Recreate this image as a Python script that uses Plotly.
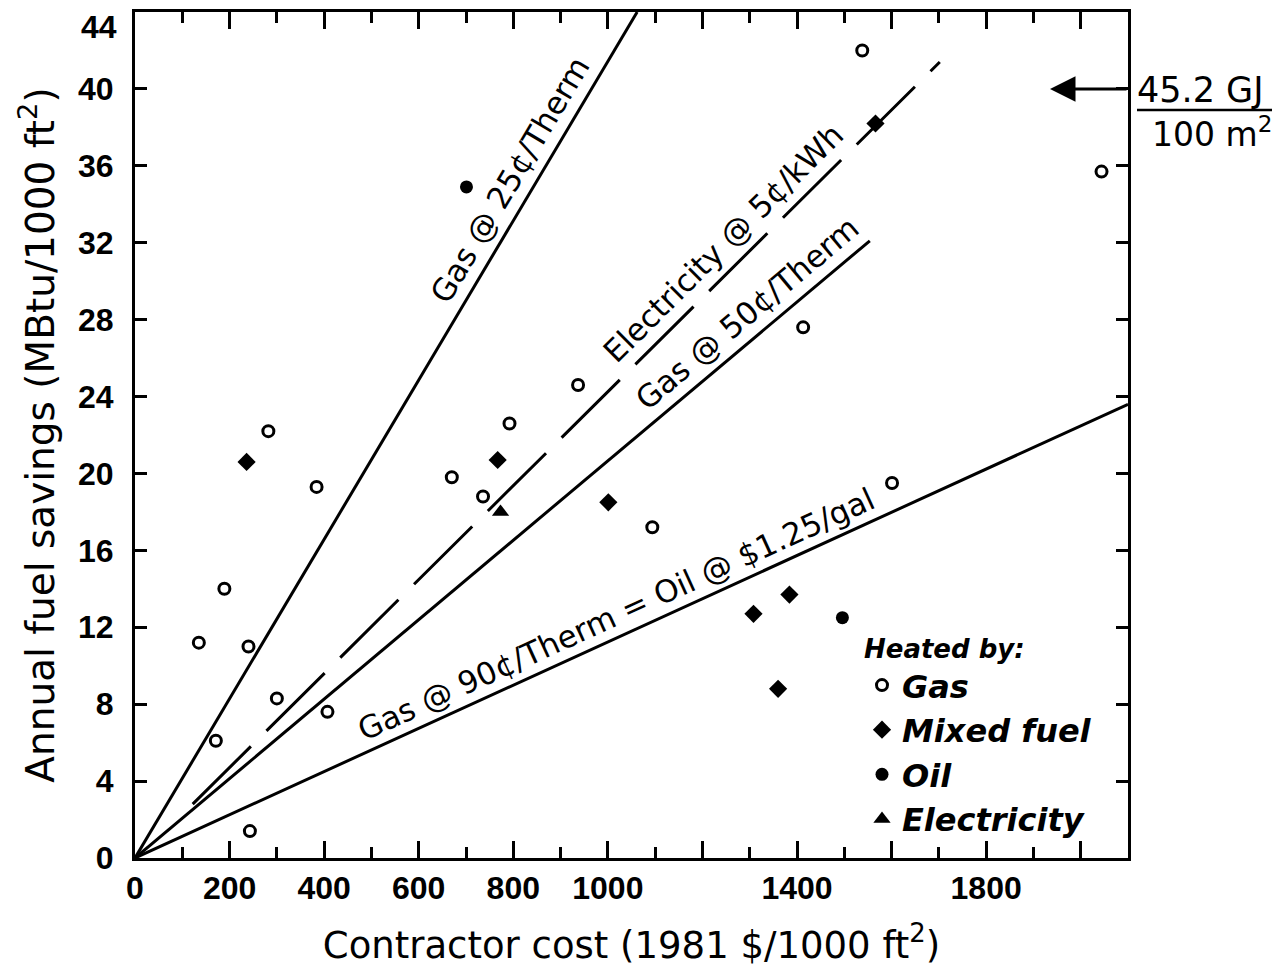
import math
import plotly.graph_objects as go

# ---- data ----
gas_x = [135, 171, 189, 240, 243, 282, 300, 384, 407, 670, 736, 792, 937, 1094, 1413, 1538, 1601, 2044]
gas_y = [11.2, 6.1, 14.0, 11.0, 1.4, 22.2, 8.3, 19.3, 7.6, 19.8, 18.8, 22.6, 24.6, 17.2, 27.6, 42.0, 19.5, 35.7]

mixed_x = [236, 767, 1001, 1308, 1384, 1360, 1566]
mixed_y = [20.6, 20.7, 18.5, 12.7, 13.7, 8.8, 38.2]

oil_x = [701, 1496]
oil_y = [34.9, 12.5]

elec_x = [773]
elec_y = [18.0]

# break-even lines (end points)
gas25_x = [0, 1062]
gas25_y = [0, 44]
elecline_x = [122, 1702]
elecline_y = [2.8, 41.4]
gas50_x = [0, 1554]
gas50_y = [0, 32.1]
gas90_x = [0, 2100]
gas90_y = [0, 23.6]

x_tickvals = [0, 200, 400, 600, 800, 1000, 1200, 1400, 1600, 1800, 2000]
x_ticktext = ["0", "200", "400", "600", "800", "1000", "", "1400", "", "1800", ""]
y_tickvals = [0, 4, 8, 12, 16, 20, 24, 28, 32, 36, 40, 44]
y_ticktext = ["0", "4", "8", "12", "16", "20", "24", "28", "32", "36", "40", ""]

FONT = "DejaVu Sans"
TICKFONT = "Liberation Sans"
L, R, T, B = 135, 149, 12, 110
W, H = 1277, 968
PW, PH = W - L - R, H - T - B
XMAX, YMAX = 2100, 44
SX, SY = PW / XMAX, PH / YMAX   # pixels per data unit

fig = go.Figure()

line_style = dict(color="black", width=3)
fig.add_trace(go.Scatter(x=gas25_x, y=gas25_y, mode="lines", line=line_style, showlegend=False, hoverinfo="skip"))
fig.add_trace(go.Scatter(x=elecline_x, y=elecline_y, mode="lines",
                         line=dict(color="black", width=3, dash="82px,22px"), showlegend=False, hoverinfo="skip"))
fig.add_trace(go.Scatter(x=gas50_x, y=gas50_y, mode="lines", line=line_style, showlegend=False, hoverinfo="skip"))
fig.add_trace(go.Scatter(x=gas90_x, y=gas90_y, mode="lines", line=line_style, showlegend=False, hoverinfo="skip"))

fig.add_trace(go.Scatter(x=gas_x, y=gas_y, mode="markers", name="Gas", legendgroup="a",
                         marker=dict(symbol="circle-open", size=11, color="black", line=dict(width=3, color="black")),
                         cliponaxis=False))
fig.add_trace(go.Scatter(x=mixed_x, y=mixed_y, mode="markers", name="Mixed fuel", legendgroup="b",
                         marker=dict(symbol="diamond", size=14, color="black"), cliponaxis=False))
fig.add_trace(go.Scatter(x=oil_x, y=oil_y, mode="markers", name="Oil", legendgroup="c",
                         marker=dict(symbol="circle", size=13, color="black"), cliponaxis=False))
fig.add_trace(go.Scatter(x=elec_x, y=elec_y, mode="markers", name="Electricity", legendgroup="d",
                         marker=dict(symbol="triangle-up", size=15, color="black"), cliponaxis=False))

# line labels: placed at a point on each line, lifted perpendicular to it
label_font = dict(family=FONT, size=31, color="black")
labels = [
    ("Gas @ 25¢/Therm", gas25_x, gas25_y, 836, 24),
    ("Electricity @ 5¢/kWh", elecline_x, elecline_y, 1280, 24),
    ("Gas @ 50¢/Therm", gas50_x, gas50_y, 1327, 24),
    ("Gas @ 90¢/Therm = Oil @ $1.25/gal", gas90_x, gas90_y, 1037, 22),
]
for txt, lxs, lys, lx, d in labels:
    slope = (lys[1] - lys[0]) / (lxs[1] - lxs[0])
    ly = lys[0] + (lx - lxs[0]) * slope
    ang = math.degrees(math.atan2(slope * SY, SX))
    s, c = math.sin(math.radians(ang)), math.cos(math.radians(ang))
    fig.add_annotation(x=lx, y=ly, xref="x", yref="y", text=txt, showarrow=False,
                       textangle=-ang, font=label_font, xanchor="center", yanchor="middle",
                       xshift=-d * s, yshift=d * c)

# arrow at 40 MBtu
fig.add_annotation(x=1935, y=40, ax=2100, ay=40, xref="x", yref="y", axref="x", ayref="y",
                   text="", showarrow=True, arrowhead=2, arrowsize=1.7, arrowwidth=3, arrowcolor="black")


def px_x(p):
    return (p - L) / PW


def px_y(p):
    return (H - B - p) / PH


# top y tick label (drawn slightly below the frame as in the original)
fig.add_annotation(x=px_x(119), y=px_y(27), xref="paper", yref="paper", text="44", showarrow=False,
                   font=dict(family=TICKFONT, size=32, color="black", weight="bold"),
                   xanchor="right", yanchor="middle")

fig.add_annotation(x=px_x(1200), y=px_y(90), xref="paper", yref="paper", text="45.2 GJ",
                   showarrow=False, font=dict(family=FONT, size=35, color="black"),
                   xanchor="center", yanchor="middle")
fig.add_annotation(x=px_x(1212), y=px_y(132), xref="paper", yref="paper", text="100 m<sup>2</sup>",
                   showarrow=False, font=dict(family=FONT, size=33, color="black"),
                   xanchor="center", yanchor="middle")
fig.add_shape(type="line", xref="paper", yref="paper", x0=px_x(1137), x1=px_x(1272),
              y0=px_y(110), y1=px_y(110), line=dict(color="black", width=2.5))

fig.update_layout(
    width=W, height=H,
    margin=dict(l=L, r=R, t=T, b=B, autoexpand=False),
    plot_bgcolor="white", paper_bgcolor="white",
    font=dict(family=FONT, color="black"),
    legend=dict(
        x=px_x(862), y=px_y(624), xanchor="left", yanchor="top",
        bgcolor="rgba(0,0,0,0)", borderwidth=0,
        font=dict(family=FONT, size=32, color="black", style="italic", weight="bold"),
        title=dict(text="Heated by:", font=dict(family=FONT, size=26, color="black", style="italic", weight="bold")),
        traceorder="normal", tracegroupgap=0, itemwidth=30,
    ),
    xaxis=dict(
        range=[0, XMAX], showgrid=False, zeroline=False,
        showline=True, linewidth=3, linecolor="black", mirror="ticks",
        ticks="inside", ticklen=17, tickwidth=3, tickcolor="black",
        tickvals=x_tickvals, ticktext=x_ticktext,
        tickfont=dict(family=TICKFONT, size=32, color="black", weight="bold"),
        ticklabelstandoff=0,
        minor=dict(dtick=100, ticks="inside", ticklen=11, tickwidth=3, tickcolor="black", showgrid=False),
        title=dict(text="Contractor cost (1981 $/1000 ft<sup>2</sup>)",
                   font=dict(family=FONT, size=37, color="black"), standoff=27),
    ),
    yaxis=dict(
        range=[0, YMAX], showgrid=False, zeroline=False,
        showline=True, linewidth=3, linecolor="black", mirror="ticks",
        ticks="inside", ticklen=12, tickwidth=3, tickcolor="black",
        tickvals=y_tickvals, ticktext=y_ticktext,
        tickfont=dict(family=TICKFONT, size=32, color="black", weight="bold"),
        ticklabelstandoff=12,
        title=dict(text="Annual fuel savings (MBtu/1000 ft<sup>2</sup>)",
                   font=dict(family=FONT, size=39, color="black"), standoff=12),
    ),
)

fig.write_html("out.html")
